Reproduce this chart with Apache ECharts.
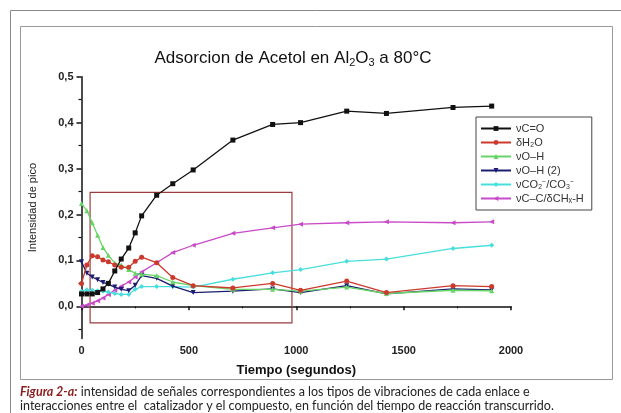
<!DOCTYPE html>
<html>
<head>
<meta charset="utf-8">
<script src="https://cdn.jsdelivr.net/npm/echarts@6/dist/echarts.min.js"></script>
<style>
  html, body { margin: 0; padding: 0; background: #fff; }
  #chart { width: 621px; height: 413px; }
</style>
</head>
<body>
<div id="chart"></div>
<script>
// tiempo (s) de cada espectro
const tiempo = [0, 25, 50, 75, 100, 125, 155, 185, 220, 250, 280, 350, 425, 520, 705, 890, 1020, 1235, 1420, 1730, 1910]

const vCO    = [0.027, 0.027, 0.027, 0.030, 0.038, 0.050, 0.077, 0.103, 0.127, 0.160, 0.197, 0.242, 0.267, 0.297, 0.362, 0.396, 0.400, 0.425, 0.420, 0.433, 0.436]
const dH2O   = [0.050, 0.090, 0.110, 0.108, 0.101, 0.097, 0.090, 0.085, 0.085, 0.098, 0.107, 0.095, 0.063, 0.045, 0.040, 0.050, 0.035, 0.055, 0.030, 0.045, 0.043]
const vOH    = [0.224, 0.208, 0.182, 0.155, 0.128, 0.111, 0.094, 0.090, 0.080, 0.072, 0.070, 0.067, 0.053, 0.045, 0.037, 0.037, 0.033, 0.042, 0.028, 0.035, 0.034]
const vOH2   = [0.097, 0.072, 0.064, 0.058, 0.052, 0.048, 0.042, 0.037, 0.034, 0.046, 0.067, 0.061, 0.044, 0.030, 0.033, 0.038, 0.030, 0.045, 0.027, 0.038, 0.036]
const vCO2   = [0.033, 0.036, 0.035, 0.034, 0.033, 0.031, 0.028, 0.026, 0.026, 0.037, 0.043, 0.043, 0.043, 0.042, 0.059, 0.073, 0.080, 0.098, 0.103, 0.126, 0.133]
const vCC    = [0.000, 0.003, 0.007, 0.012, 0.018, 0.026, 0.035, 0.044, 0.053, 0.064, 0.075, 0.095, 0.117, 0.133, 0.159, 0.171, 0.179, 0.182, 0.184, 0.182, 0.184]

const seriesNames = ['νC=O', 'δH₂O', 'νO–H', 'νO–H (2)', 'νCO₂⁻/CO₃⁻', 'νC–C/δCHₓ-H']
const seriesValues = [vCO, dH2O, vOH, vOH2, vCO2, vCC]

const yTicks = [0, 0.1, 0.2, 0.3, 0.4, 0.5]
const yMinorTicks = [-0.05, 0.05, 0.15, 0.25, 0.35, 0.45]
const yMin = -0.07
const yMax = 0.5

// recuadro resaltado (zona inicial)
const zoneX = [40, 980]
const zoneY = [-0.036, 0.248]

const colors = ['#111111', '#cc3a2e', '#66d466', '#1c1c70', '#47dede', '#c94ac9']
const symbols = ['rect', 'circle', 'triangle', 'triangle', 'diamond', 'triangle']
const symbolRotate = [0, 0, 0, 180, 0, 90]

const chart = echarts.init(document.getElementById('chart'))

const axisFont = { fontFamily: 'Liberation Sans', fontWeight: 'bold', fontSize: 11, color: '#222' }

const option = {
  animation: false,
  backgroundColor: '#fff',
  title: {
    text: '{a|Adsorcion de Acetol en Al}{s|2}{a|O}{s|3}{a| a 80°C}',
    left: 288,
    top: 42,
    textAlign: 'center',
    textStyle: {
      fontWeight: 'normal',
      rich: {
        a: { fontFamily: 'Liberation Sans', fontWeight: 'normal', fontSize: 17, color: '#111', lineHeight: 22 },
        s: { fontFamily: 'Liberation Sans', fontWeight: 'normal', fontSize: 11, color: '#111', lineHeight: 22, padding: [9, 0, 0, 0] }
      }
    }
  },
  legend: {
    orient: 'vertical',
    left: 476,
    top: 117,
    padding: [5, 8, 5, 4],
    itemGap: 1,
    itemWidth: 30,
    itemHeight: 6,
    borderColor: '#444',
    borderWidth: 1,
    textStyle: { fontFamily: 'Liberation Sans', fontSize: 11, color: '#333', lineHeight: 13 },
    data: seriesNames
  },
  grid: { left: 81.5, right: 110, top: 76.7, bottom: 413 - 338.5 },
  xAxis: {
    type: 'value',
    min: 0,
    max: 2000,
    interval: 500,
    name: 'Tiempo (segundos)',
    nameLocation: 'middle',
    nameGap: 25,
    nameTextStyle: { fontFamily: 'Liberation Sans', fontWeight: 'bold', fontSize: 13, color: '#111' },
    axisLine: { lineStyle: { color: '#111', width: 1.5 } },
    axisTick: { length: 4, lineStyle: { color: '#111', width: 1.5 } },
    minorTick: { show: true, splitNumber: 2, length: 2, lineStyle: { color: '#111' } },
    splitLine: { show: false },
    axisLabel: Object.assign({ margin: 7, formatter: v => String(v) }, axisFont)
  },
  yAxis: [{
    type: 'value',
    min: yMin,
    max: yMax,
    name: 'Intensidad de pico',
    nameLocation: 'middle',
    nameGap: 43,
    nameTextStyle: { fontFamily: 'Liberation Sans', fontSize: 11, color: '#222' },
    axisLine: { show: true, lineStyle: { color: '#111', width: 1.5 } },
    axisTick: { show: true, length: 5, customValues: yTicks, lineStyle: { color: '#111', width: 1.5 } },
    splitLine: { show: false },
    axisLabel: Object.assign({
      margin: 8,
      customValues: yTicks,
      formatter: v => v.toFixed(1).replace('.', ',')
    }, axisFont)
  }, {
    // ticks menores
    type: 'value',
    position: 'left',
    min: yMin,
    max: yMax,
    axisLine: { show: false },
    axisTick: { show: true, length: 3, customValues: yMinorTicks, lineStyle: { color: '#111', width: 1.2 } },
    axisLabel: { show: false },
    splitLine: { show: false }
  }],
  series: seriesNames.map((name, i) => ({
    name,
    type: 'line',
    data: tiempo.map((t, k) => [t, seriesValues[i][k]]),
    symbol: symbols[i],
    symbolSize: 5,
    symbolRotate: symbolRotate[i],
    color: colors[i],
    lineStyle: { width: 1.3, color: colors[i] },
    itemStyle: { color: colors[i] },
    z: 10 - i,
    markArea: i === 0 ? {
      silent: true,
      itemStyle: { color: 'rgba(0,0,0,0)', borderColor: '#9a3d3d', borderWidth: 1.2 },
      data: [[{ coord: [zoneX[0], zoneY[1]] }, { coord: [zoneX[1], zoneY[0]] }]]
    } : undefined
  })),
  graphic: [
    { type: 'rect', shape: { x: 10.5, y: 10.5, width: 640, height: 420 }, style: { fill: 'none', stroke: '#888', lineWidth: 1 }, silent: true },
    { type: 'rect', shape: { x: 20.5, y: 26.5, width: 592, height: 353 }, style: { fill: 'none', stroke: '#999', lineWidth: 1 }, silent: true },
    {
      type: 'text', left: 20, top: 385,
      style: {
        text: '{b|Figura 2-a:} {n|intensidad de señales correspondientes a los tipos de vibraciones de cada enlace e}',
        rich: {
          b: { fontFamily: 'Lato', fontSize: 12.5, fontStyle: 'italic', fontWeight: 'bold', fill: '#8b1c1c' },
          n: { fontFamily: 'Lato', fontSize: 12.5, fill: '#222' }
        }
      }
    },
    {
      type: 'text', left: 20, top: 399,
      style: {
        text: 'interacciones entre el  catalizador y el compuesto, en función del tiempo de reacción transcurrido.',
        fontFamily: 'Lato', fontSize: 12.5, fill: '#222'
      }
    }
  ]
}

chart.setOption(option)
</script>
</body>
</html>
